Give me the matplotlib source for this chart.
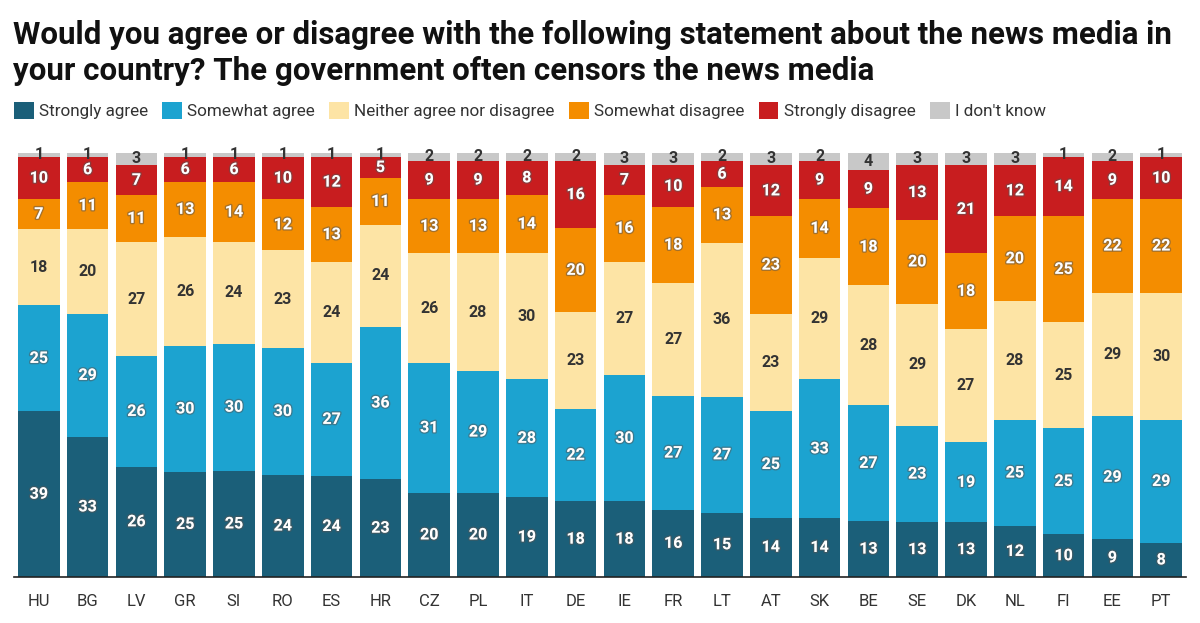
import numpy as np
import matplotlib.pyplot as plt
import matplotlib.patheffects as pe

plt.rcParams['font.family'] = ['Roboto', 'DejaVu Sans']

countries = ['HU', 'BG', 'LV', 'GR', 'SI', 'RO', 'ES', 'HR', 'CZ', 'PL', 'IT', 'DE',
             'IE', 'FR', 'LT', 'AT', 'SK', 'BE', 'SE', 'DK', 'NL', 'FI', 'EE', 'PT']
strongly_agree = [39, 33, 26, 25, 25, 24, 24, 23, 20, 20, 19, 18, 18, 16, 15, 14, 14, 13, 13, 13, 12, 10, 9, 8]
somewhat_agree = [25, 29, 26, 30, 30, 30, 27, 36, 31, 29, 28, 22, 30, 27, 27, 25, 33, 27, 23, 19, 25, 25, 29, 29]
neither = [18, 20, 27, 26, 24, 23, 24, 24, 26, 28, 30, 23, 27, 27, 36, 23, 29, 28, 29, 27, 28, 25, 29, 30]
somewhat_disagree = [7, 11, 11, 13, 14, 12, 13, 11, 13, 13, 14, 20, 16, 18, 13, 23, 14, 18, 20, 18, 20, 25, 22, 22]
strongly_disagree = [10, 6, 7, 6, 6, 10, 12, 5, 9, 9, 8, 16, 7, 10, 6, 12, 9, 9, 13, 21, 12, 14, 9, 10]
dont_know = [1, 1, 3, 1, 1, 1, 1, 1, 2, 2, 2, 2, 3, 3, 2, 3, 2, 4, 3, 3, 3, 1, 2, 1]

series = [strongly_agree, somewhat_agree, neither, somewhat_disagree, strongly_disagree, dont_know]
names = ['Strongly agree', 'Somewhat agree', 'Neither agree nor disagree',
         'Somewhat disagree', 'Strongly disagree', "I don't know"]
colors = ['#1b5f79', '#1ca3d0', '#fde4a5', '#f48d00', '#c81d1f', '#c8c8c8']
dark_text = [False, False, True, False, False, True]

vals = np.array(series, dtype=float)
totals = vals.sum(axis=0)
shares = vals / totals * 100

fig = plt.figure(figsize=(12, 6.23), dpi=100)
ax = fig.add_axes([0.012, 0.074, 0.976, 0.681])

x = np.arange(len(countries))
bottom = np.zeros(len(countries))
for i in range(len(series)):
    ax.bar(x, shares[i], 0.85, bottom=bottom, color=colors[i], label=names[i], linewidth=0)
    for j in range(len(countries)):
        cy = bottom[j] + shares[i][j] / 2
        if dark_text[i]:
            ax.text(x[j], cy, str(series[i][j]), ha='center', va='center', fontsize=11.5,
                    fontweight='bold', color='#333333')
        else:
            ax.text(x[j], cy, str(series[i][j]), ha='center', va='center', fontsize=11.5,
                    fontweight='bold', color='white',
                    path_effects=[pe.withStroke(linewidth=2, foreground='#55555580')])
    bottom += shares[i]

ax.set_xlim(-0.5, len(countries) - 0.5)
ax.set_ylim(0, 100)
ax.set_xticks(x)
ax.set_xticklabels(countries, fontsize=12, color='#333333')
ax.set_yticks([])
ax.tick_params(axis='x', length=0, pad=12)
for s in ['top', 'right', 'left']:
    ax.spines[s].set_visible(False)
ax.spines['bottom'].set_color('#222222')
ax.spines['bottom'].set_linewidth(1.2)

fig.text(0.011, 0.872, 'Would you agree or disagree with the following statement about the news media in\n'
         'your country? The government often censors the news media',
         ha='left', va='baseline', fontsize=22.5, fontweight='bold', color='#111111', linespacing=1.22)

fig.legend(loc='upper left', bbox_to_anchor=(0.0117, 0.836), ncol=6, frameon=False, fontsize=12.3,
           handlelength=1.15, handleheight=1.15, handletextpad=0.3, columnspacing=0.85,
           labelcolor='#333333', borderaxespad=0, borderpad=0)

fig.savefig('out.png', dpi=100)
